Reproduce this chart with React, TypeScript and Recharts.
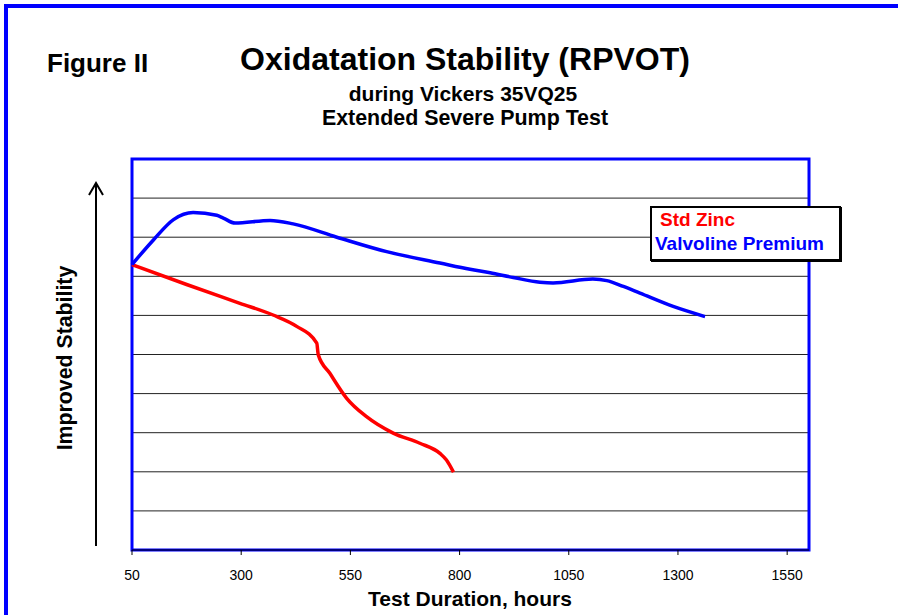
import { CartesianGrid, Legend, Line, LineChart, ReferenceArea, XAxis, YAxis } from "recharts";

const valvolineHours = [50, 99, 145, 190, 244, 259, 286, 366, 419, 519, 633, 755, 824, 870, 923, 984, 1014, 1105, 1137, 1175, 1213, 1289, 1362];
const valvolineValues = [7.3, 7.93, 8.45, 8.63, 8.56, 8.49, 8.36, 8.43, 8.34, 8.0, 7.63, 7.34, 7.18, 7.09, 6.97, 6.85, 6.83, 6.93, 6.89, 6.74, 6.57, 6.23, 5.97];

const zincHours = [50, 175, 297, 373, 427, 473, 476.5, 503, 541.5, 587, 648, 709, 755, 770, 786];
const zincValues = [7.3, 6.79, 6.31, 6.01, 5.72, 5.29, 4.99, 4.52, 3.88, 3.41, 2.99, 2.73, 2.47, 2.3, 1.99];

const xTicks = [50, 300, 550, 800, 1050, 1300, 1550];
const yTicks = [0, 1, 2, 3, 4, 5, 6, 7, 8, 9, 10];

const zincData = zincHours.map((h, i) => ({ hours: h, value: zincValues[i] }));
const valvolineData = valvolineHours.map((h, i) => ({ hours: h, value: valvolineValues[i] }));

const font = "'Liberation Sans', Arial, sans-serif";
const BLUE = "#0000FF";
const RED = "#FF0000";

const LegendBox = ({ payload }: any) => (
  <div
    style={{
      width: 191,
      height: 55,
      border: "2px solid #000",
      boxShadow: "1px 1px 0 #000",
      background: "#fff",
      fontFamily: font,
      fontWeight: "bold",
      fontSize: 19,
      lineHeight: "24px",
      paddingTop: 0,
      boxSizing: "border-box",
    }}
  >
    {(payload || []).map((p: any) => (
      <div key={p.value} style={{ color: p.color, paddingLeft: p.color === RED ? 8 : 3 }}>
        {p.value}
      </div>
    ))}
  </div>
);

export default function App() {
  return (
    <div style={{ position: "absolute", left: 0, top: 0, width: 898, height: 615, background: "#fff", overflow: "hidden" }}>
      <svg width={898} height={615} style={{ position: "absolute", left: 0, top: 0 }} fontFamily={font}>
        <rect x={6} y={6} width={1000} height={1000} fill="none" stroke={BLUE} strokeWidth={4} />
        <text x={47} y={72} fontSize={26} fontWeight="bold">Figure II</text>
        <text x={465} y={70} fontSize={32} fontWeight="bold" textAnchor="middle">Oxidatation Stability (RPVOT)</text>
        <text x={463} y={101} fontSize={21} fontWeight="bold" textAnchor="middle">during Vickers 35VQ25</text>
        <text x={465} y={125} fontSize={21.4} fontWeight="bold" textAnchor="middle">Extended Severe Pump Test</text>
        <text x={470} y={606} fontSize={21} fontWeight="bold" textAnchor="middle">Test Duration, hours</text>
        <text transform="translate(72,358) rotate(-90)" fontSize={21.3} fontWeight="bold" textAnchor="middle">Improved Stability</text>
        <line x1={96} y1={546} x2={96} y2={184} stroke="#000" strokeWidth={2} />
        <polyline points="89,195 96,183 103,195" fill="none" stroke="#000" strokeWidth={2} />
      </svg>
      <div style={{ position: "absolute", left: 0, top: 0 }}>
        <LineChart width={898} height={615} margin={{ top: 159, left: 132, right: 89, bottom: 35 }} style={{ fontFamily: font }}>
          <CartesianGrid horizontal vertical={false} stroke="#222" strokeWidth={1} />
          <XAxis
            dataKey="hours"
            type="number"
            domain={[50, 1600]}
            ticks={xTicks}
            allowDuplicatedCategory={false}
            height={30}
            tickSize={5}
            tickMargin={15}
            stroke="#000"
            tick={{ fill: "#000", fontSize: 14 }}
          />
          <YAxis type="number" domain={[0, 10]} ticks={yTicks} hide width={0} />
          <ReferenceArea x1={50} x2={1600} y1={0} y2={10} fill="none" stroke={BLUE} strokeWidth={3} ifOverflow="visible" />
          <Legend
            layout="vertical"
            align="center"
            verticalAlign="middle"
            content={<LegendBox />}
            wrapperStyle={{ left: 650, top: 206, width: 191, height: 55 }}
          />
          <Line
            data={zincData}
            dataKey="value"
            name="Std Zinc"
            type="monotone"
            stroke={RED}
            strokeWidth={3.5}
            dot={false}
            activeDot={false}
            isAnimationActive={false}
          />
          <Line
            data={valvolineData}
            dataKey="value"
            name="Valvoline Premium"
            type="monotone"
            stroke={BLUE}
            strokeWidth={3.5}
            dot={false}
            activeDot={false}
            isAnimationActive={false}
          />
        </LineChart>
      </div>
    </div>
  );
}
